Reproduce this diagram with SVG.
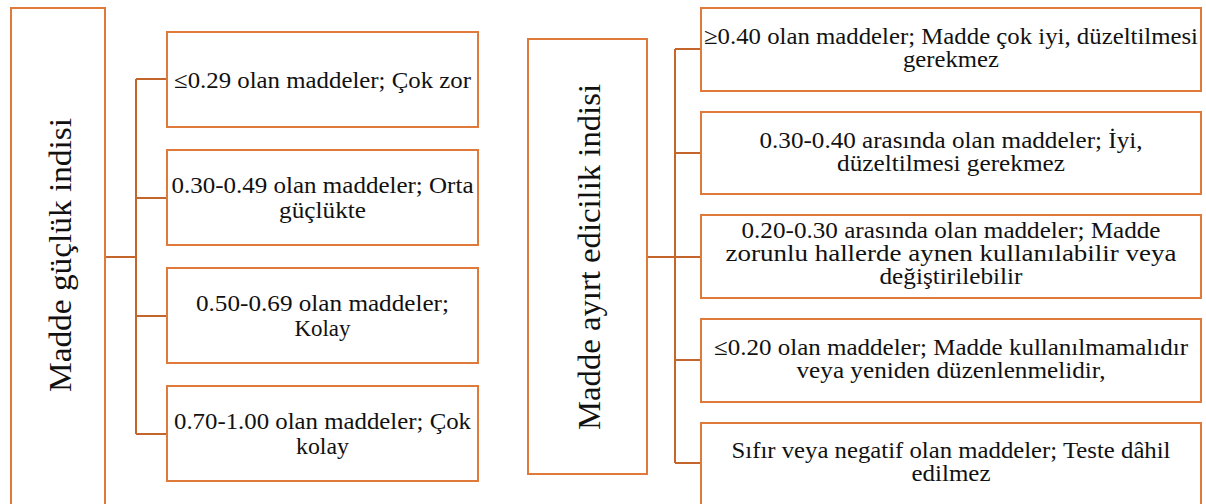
<svg xmlns="http://www.w3.org/2000/svg" width="1206" height="504" viewBox="0 0 1206 504">
<style>
  .box { fill: #ffffff; stroke: #E07A3A; stroke-width: 2; }
  .conn { fill: none; stroke: #C4652B; stroke-width: 2; }
  .t { font-family: "Liberation Serif", "Times New Roman", serif; font-size: 23px; fill: #111; text-anchor: middle; }
  .title { font-family: "Liberation Serif", "Times New Roman", serif; font-size: 32px; fill: #111; text-anchor: middle; }
</style>
<rect width="1206" height="504" fill="#ffffff"/>
<g id="connectors">
  <path class="conn" d="M105 257 H136 M136 79 V434 M136 79 H167 M136 198 H167 M136 316 H167 M136 434 H167"/>
  <path class="conn" d="M647 257 H675 M675 49 V463 M675 49 H701 M675 153 H701 M675 257 H701 M675 360 H701 M675 463 H701"/>
</g>
<g id="n-guclluk">
  <rect class="box" x="11" y="8" width="94" height="510"/>
  <text class="title" transform="translate(71 255) rotate(-90)" textLength="274" lengthAdjust="spacingAndGlyphs">Madde güçlük indisi</text>
</g>
<g id="n-g1">
  <rect class="box" x="167" y="32" width="311" height="95"/>
  <text class="t" x="322.5" y="88" textLength="297" lengthAdjust="spacingAndGlyphs">≤0.29 olan maddeler; Çok zor</text>
</g>
<g id="n-g2">
  <rect class="box" x="167" y="150" width="311" height="95"/>
  <text class="t" x="322.5" y="193" textLength="302" lengthAdjust="spacingAndGlyphs">0.30-0.49 olan maddeler; Orta</text>
  <text class="t" x="322.5" y="218" textLength="87" lengthAdjust="spacingAndGlyphs">güçlükte</text>
</g>
<g id="n-g3">
  <rect class="box" x="167" y="268" width="311" height="95"/>
  <text class="t" x="322.5" y="311" textLength="253" lengthAdjust="spacingAndGlyphs">0.50-0.69 olan maddeler;</text>
  <text class="t" x="322.5" y="336" textLength="56" lengthAdjust="spacingAndGlyphs">Kolay</text>
</g>
<g id="n-g4">
  <rect class="box" x="167" y="386" width="311" height="95"/>
  <text class="t" x="322.5" y="429" textLength="297" lengthAdjust="spacingAndGlyphs">0.70-1.00 olan maddeler; Çok</text>
  <text class="t" x="322.5" y="454" textLength="53" lengthAdjust="spacingAndGlyphs">kolay</text>
</g>
<g id="n-ayirt">
  <rect class="box" x="528" y="39" width="119" height="435"/>
  <text class="title" transform="translate(600 257) rotate(-90)" textLength="346" lengthAdjust="spacingAndGlyphs">Madde ayırt edicilik indisi</text>
</g>
<g id="n-a1">
  <rect class="box" x="701" y="8" width="500" height="83"/>
  <text class="t" x="951" y="44" textLength="494" lengthAdjust="spacingAndGlyphs">≥0.40 olan maddeler; Madde çok iyi, düzeltilmesi</text>
  <text class="t" x="951" y="67" textLength="96" lengthAdjust="spacingAndGlyphs">gerekmez</text>
</g>
<g id="n-a2">
  <rect class="box" x="701" y="112" width="500" height="82"/>
  <text class="t" x="951" y="148" textLength="383" lengthAdjust="spacingAndGlyphs">0.30-0.40 arasında olan maddeler; İyi,</text>
  <text class="t" x="951" y="171" textLength="228" lengthAdjust="spacingAndGlyphs">düzeltilmesi gerekmez</text>
</g>
<g id="n-a3">
  <rect class="box" x="701" y="215" width="500" height="83"/>
  <text class="t" x="951" y="238" textLength="419" lengthAdjust="spacingAndGlyphs">0.20-0.30 arasında olan maddeler; Madde</text>
  <text class="t" x="951" y="261" textLength="451" lengthAdjust="spacingAndGlyphs">zorunlu hallerde aynen kullanılabilir veya</text>
  <text class="t" x="951" y="284" textLength="143" lengthAdjust="spacingAndGlyphs">değiştirilebilir</text>
</g>
<g id="n-a4">
  <rect class="box" x="701" y="319" width="500" height="83"/>
  <text class="t" x="951" y="355" textLength="474" lengthAdjust="spacingAndGlyphs">≤0.20 olan maddeler; Madde kullanılmamalıdır</text>
  <text class="t" x="951" y="378" textLength="309" lengthAdjust="spacingAndGlyphs">veya yeniden düzenlenmelidir,</text>
</g>
<g id="n-a5">
  <rect class="box" x="701" y="423" width="500" height="95"/>
  <text class="t" x="951" y="458" textLength="439" lengthAdjust="spacingAndGlyphs">Sıfır veya negatif olan maddeler; Teste dâhil</text>
  <text class="t" x="951" y="481" textLength="79" lengthAdjust="spacingAndGlyphs">edilmez</text>
</g>
</svg>
